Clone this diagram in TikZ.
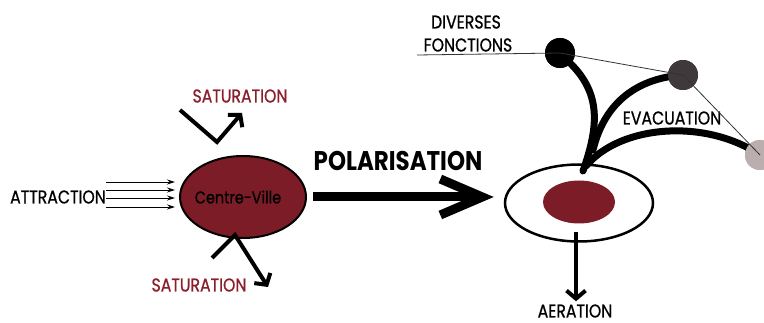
\documentclass[tikz,border=0pt]{standalone}
\usepackage{fontspec}
\newfontfamily\geo[FakeStretch=0.85,FakeBold=0.8]{Poppins}
\newfontfamily\geob[FakeStretch=0.85]{Poppins Bold}
\usetikzlibrary{arrows.meta,shapes.geometric}
\definecolor{bordeaux}{HTML}{7B1C26}
\definecolor{satred}{HTML}{8A1E2A}
\definecolor{darkdot}{HTML}{3F393B}
\definecolor{lightdot}{HTML}{BAAEAF}
\definecolor{thinline}{HTML}{333333}
\begin{document}
\begin{tikzpicture}[x=1pt,y=-1pt,
  lbl/.style={font=\geo\fontsize{18.5}{18.5}\selectfont, inner sep=0pt, text=black},
  satlbl/.style={lbl, text=satred},
  satarrow/.style={line width=4pt, -{Straight Barb[sharp,length=8pt,width=19pt]}},
  thinarrow/.style={line width=0.9pt, -{Stealth[length=8pt,width=5pt]}},
  bigarrow/.style={line width=9pt, -{Straight Barb[sharp,length=42pt,width=36pt]}},
  branch/.style={line width=7pt, line cap=round},
  dot/.style={circle, minimum size=30pt, inner sep=0pt},
]
\useasboundingbox (0,0) rectangle (764,323);

% left: centre-ville
\node[ellipse, draw, line width=2pt, fill=bordeaux, minimum width=126pt, minimum height=82pt, inner sep=0pt] (cv) at (243,197) {};
\node[lbl, font=\geo\fontsize{17}{17}\selectfont] (cvlabel) at (238,197) {Centre-Ville};
\node[lbl] (attr) at (58,197) {ATTRACTION};
\node[satlbl] (sattop) at (240,96) {SATURATION};
\node[satlbl] (satbot) at (199,285) {SATURATION};

\foreach \yy in {182,190,198,207}
  \draw[thinarrow, shorten >=4pt] (attr.east |- 0,\yy) -- (cv.west |- 0,\yy);

\coordinate (s1a) at (180,110);
\coordinate (s1b) at (217,142);
\coordinate (s1c) at (242,113);
\draw[satarrow] (s1a) -- (s1b) -- (s1c);
\coordinate (s2a) at (212,258);
\coordinate (s2b) at (235,235);
\coordinate (s2c) at (268,287);
\draw[satarrow] (s2a) -- (s2b) -- (s2c);

% polarisation
\node[font=\geob\fontsize{27}{27}\selectfont, inner sep=0pt] (pol) at (398,161) {POLARISATION};

% right: hub
\node[ellipse, draw, line width=2.5pt, fill=white, minimum width=148pt, minimum height=77pt, inner sep=0pt] (hub) at (579,203) {};
\node[ellipse, fill=bordeaux, minimum width=72pt, minimum height=43pt, inner sep=0pt] (core) at (579,202) {};
\draw[bigarrow, shorten <=6pt, shorten >=10pt] (cv.east) -- (hub.west |- cv.east);

\node[lbl] (aer) at (575,311) {AERATION};
\draw[satarrow, shorten <=8pt, shorten >=3pt] (core.south) ++(-3,0) coordinate (aerstart) -- (aerstart |- aer.north);

\node[lbl] (div) at (466,22) {DIVERSES};
\node[lbl] (fonc) at (468,45) {FONCTIONS};
\node[lbl] (evac) at (672,118) {EVACUATION};

\node[dot, fill=black] (dot1) at (560,53) {};
\node[dot, fill=darkdot] (dot2) at (683,75) {};
\node[dot, fill=lightdot] (dot3) at (760,155) {};

\coordinate (root) at (583,171);
\draw[branch] (root) .. controls (598,128) and (602,95) .. (dot1);
\draw[branch] (593,150) .. controls (605,100) and (640,78) .. (dot2.center);
\draw[branch] (586,166) .. controls (620,125) and (705,118) .. (dot3.center);
\node[dot, fill=black] at (dot1) {};
\node[dot, fill=darkdot] at (dot2) {};
\node[dot, fill=lightdot] at (dot3) {};

\coordinate (lstart) at (417,55);
\draw[thinline, line width=0.8pt] (lstart) -- (dot1.center) -- (dot2.center) -- (dot3.center);
\end{tikzpicture}
\end{document}
